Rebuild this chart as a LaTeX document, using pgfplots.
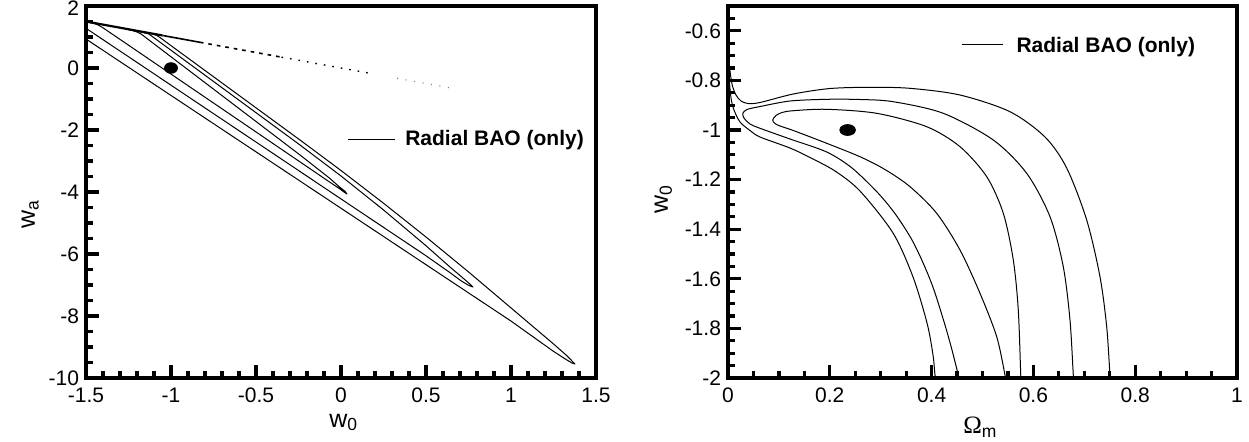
\documentclass[border=0pt]{standalone}
\usepackage{fontspec}
\setmainfont{Liberation Sans}
\newfontfamily\serifgreek{Liberation Serif}
\usepackage{pgfplots}
\pgfplotsset{compat=1.18}
\pgfplotsset{
  panel/.style={
    scale only axis, width=255pt, height=186pt,
    clip mode=individual,
    axis line style={line width=2pt},
    tick align=inside,
    xtick pos=left, ytick pos=left,
    major tick length=6.5pt, minor tick length=3.5pt,
    tick style={line width=1.6pt, black},
    tick label style={font=\fontsize{10.5}{12}\selectfont},
    xticklabel style={yshift=-1.5pt},
    /pgf/number format/assume math mode=true,
  },
  ctr/.style={black, line width=0.5pt, line join=round, mark=none},
}
\newcommand\lblfont{\fontsize{12.5}{14}\selectfont}
\newcommand\legfont{\fontsize{10.5}{12}\selectfont\bfseries}
\begin{document}
\begin{tikzpicture}
% ---------------- left panel ----------------
\begin{axis}[panel, at={(0,0)}, anchor=south west,
  xmin=-1.5, xmax=1.5, ymin=-10, ymax=2,
  xtick={-1.5,-1,-0.5,0,0.5,1,1.5},
  ytick={-10,-8,-6,-4,-2,0,2},
  yticklabels={-10,-8,-6,-4,-2,0,\raisebox{-4.5pt}[0pt][0pt]{2}},
  minor xtick={-1.4,-1.3,-1.2,-1.1,-0.9,-0.8,-0.7,-0.6,-0.4,-0.3,-0.2,-0.1,0.1,0.2,0.3,0.4,0.6,0.7,0.8,0.9,1.1,1.2,1.3,1.4},
  minor ytick={-9.5,-9,-8.5,-7.5,-7,-6.5,-5.5,-5,-4.5,-3.5,-3,-2.5,-1.5,-1,-0.5,0.5,1,1.5},
]
% outer contour
\addplot[ctr] coordinates {(-1.5,0.935) (-1.0,-0.885) (-0.5,-2.704) (0,-4.524) (0.5,-6.344) (1.0,-8.163) (1.247,-9.129) (1.324,-9.403) (1.359,-9.516) (1.376,-9.548) (1.365,-9.484) (1.324,-9.258) (1.247,-8.887) (1.0,-7.739) (0.75,-6.577) (0.5,-5.451) (0.25,-4.361) (0,-3.306) (-0.241,-2.323) (-0.5,-1.284) (-0.75,-0.281) (-1.0,0.722) (-1.065,0.985) (-1.085,1.055) (-1.11,1.095) (-1.15,1.14)};
% middle contour
\addplot[ctr] coordinates {(-1.5,1.281) (-1.25,0.364) (-1.0,-0.554) (-0.5,-2.388) (0,-4.223) (0.5,-6.057) (0.641,-6.60) (0.712,-6.887) (0.753,-7.016) (0.776,-7.065) (0.765,-7.0) (0.724,-6.806) (0.641,-6.419) (0.5,-5.733) (0.25,-4.578) (0,-3.483) (-0.241,-2.484) (-0.5,-1.441) (-0.75,-0.434) (-1.0,0.573) (-1.118,1.048) (-1.13,1.095) (-1.145,1.12) (-1.19,1.175)};
% inner contour
\addplot[ctr] coordinates {(-1.48,1.465) (-1.45,1.43) (-1.43,1.39) (-1.41,1.33) (-1.394,1.274) (-1.25,0.737) (-1.0,-0.196) (-0.75,-1.129) (-0.5,-2.062) (-0.25,-2.995) (-0.0647,-3.687) (-0.0059,-3.903) (0.0176,-4.0) (0.0353,-4.065) (0.0235,-3.977) (-0.0118,-3.823) (-0.0647,-3.565) (-0.241,-2.806) (-0.5,-1.725) (-0.75,-0.681) (-1.0,0.362) (-1.176,1.097) (-1.195,1.15) (-1.215,1.19) (-1.25,1.235)};
% physical boundary w0+wa=0
\addplot[black, line width=1.1pt] coordinates {(-1.5,1.5) (-1.05,1.05)};
\addplot[black, line width=0.8pt] coordinates {(-1.05,1.05) (-0.83,0.83)};
\addplot[black, line width=0.8pt, dash pattern=on 1.8pt off 2.5pt] coordinates {(-0.83,0.83) (-0.35,0.35)};
\addplot[black, line width=0.7pt, dash pattern=on 0.8pt off 3.5pt] coordinates {(-0.35,0.35) (0.18,-0.18)};
\addplot[gray, line width=0.6pt, dash pattern=on 0.5pt off 3.8pt] coordinates {(0.33,-0.33) (0.64,-0.64)};
% fiducial point
\addplot[only marks, mark=*, mark size=3.25pt, mark options={yscale=0.82, fill=black, draw=black}] coordinates {(-1,0)};
% legend
\draw[black, line width=0.5pt] (axis cs:0.041,-2.3) -- (axis cs:0.318,-2.3);
\node[anchor=base west, inner sep=0pt, font=\legfont] at (axis cs:0.376,-2.484) {Radial BAO (only)};
% labels
\node[anchor=base west, inner sep=0pt, font=\lblfont] at (rel axis cs:0.4765,-0.1317) {w\textsubscript{0}};
\node[anchor=base west, inner sep=0pt, rotate=90, font=\lblfont] at (rel axis cs:-0.10,0.40) {w\textsubscript{a}};
\end{axis}
% ---------------- right panel ----------------
\begin{axis}[panel, at={(321pt,0)}, anchor=south west, width=254.5pt,
  xmin=0, xmax=1, ymin=-2, ymax=-0.5,
  xtick={0,0.2,0.4,0.6,0.8,1},
  ytick={-2,-1.8,-1.6,-1.4,-1.2,-1,-0.8,-0.6},
  minor xtick={0.05,0.1,0.15,0.25,0.3,0.35,0.45,0.5,0.55,0.65,0.7,0.75,0.85,0.9,0.95},
  minor ytick={-1.95,-1.9,-1.85,-1.75,-1.7,-1.65,-1.55,-1.5,-1.45,-1.35,-1.3,-1.25,-1.15,-1.1,-1.05,-0.95,-0.9,-0.85,-0.75,-0.7,-0.65,-0.55},
]
% outer contour
\addplot[ctr, smooth, tension=0.5] coordinates {(0.4100,-2.0) (0.4067,-1.9879) (0.4028,-1.9073) (0.3910,-1.7782) (0.3635,-1.5927) (0.3242,-1.4153) (0.2593,-1.2460) (0.2102,-1.1653) (0.1611,-1.1109) (0.1218,-1.0726) (0.0629,-1.0282) (0.0432,-1.0020) (0.0236,-0.9677) (0.0118,-0.9194) (0.0059,-0.8710) (0.0026,-0.7984) (0.0015,-0.74)};
\addplot[ctr, smooth, tension=0.5] coordinates {(0.0025,-0.735) (0.0049,-0.778) (0.0088,-0.8226) (0.0157,-0.8589) (0.0255,-0.8831) (0.0393,-0.8931) (0.0629,-0.8891) (0.1283,-0.8548) (0.2004,-0.8327) (0.2790,-0.8278) (0.3576,-0.8319) (0.4558,-0.8589) (0.5540,-0.9262) (0.6228,-1.0282) (0.6654,-1.1532) (0.7047,-1.3629) (0.7308,-1.5915) (0.7440,-1.7931) (0.7505,-1.9879) (0.7525,-2.0)};
% middle contour
\addplot[ctr, smooth, tension=0.5] coordinates {(0.4550,-2.0) (0.4525,-1.9879) (0.4401,-1.8871) (0.4263,-1.7863) (0.4047,-1.6452) (0.3851,-1.5444) (0.3615,-1.4435) (0.3301,-1.3427) (0.2947,-1.2540) (0.2436,-1.1532) (0.1939,-1.0887) (0.1218,-1.0363) (0.0629,-0.9931) (0.0432,-0.9758) (0.0314,-0.9516) (0.0292,-0.9327) (0.0373,-0.9173) (0.0615,-0.9060) (0.1218,-0.8831) (0.1939,-0.8762) (0.2593,-0.8770) (0.3248,-0.8859) (0.4230,-0.9327) (0.5212,-1.0403) (0.5868,-1.1746) (0.6326,-1.3496) (0.6587,-1.5512) (0.6719,-1.7661) (0.6784,-1.9879) (0.6798,-2.0)};
% inner contour
\addplot[ctr, smooth, tension=0.5] coordinates {(0.5450,-2.0) (0.5442,-1.9879) (0.5279,-1.8335) (0.4951,-1.6585) (0.4558,-1.4839) (0.4100,-1.3359) (0.3576,-1.2286) (0.3084,-1.1593) (0.2593,-1.1077) (0.1939,-1.0536) (0.1283,-1.0020) (0.1022,-0.9839) (0.0923,-0.9738) (0.0878,-0.9597) (0.0943,-0.9415) (0.1061,-0.9294) (0.1283,-0.9222) (0.1939,-0.9165) (0.2921,-0.9327) (0.3904,-0.9867) (0.4558,-1.0673) (0.5083,-1.1883) (0.5409,-1.3359) (0.5605,-1.5242) (0.5703,-1.7258) (0.5751,-1.9879) (0.5756,-2.0)};
% fiducial point
\addplot[only marks, mark=*, mark size=3.9pt, mark options={yscale=0.7, fill=black, draw=black}] coordinates {(0.235,-1.0)};
% legend
\draw[black, line width=0.5pt] (axis cs:0.459,-0.657) -- (axis cs:0.541,-0.657);
\node[anchor=base west, inner sep=0pt, font=\legfont] at (axis cs:0.566,-0.6875) {Radial BAO (only)};
% labels
\node[anchor=base west, inner sep=0pt, font=\lblfont] at (rel axis cs:0.4617,-0.150) {{\serifgreek Ω}\textsubscript{m}};
\node[anchor=base west, inner sep=0pt, rotate=90, font=\lblfont] at (rel axis cs:-0.118,0.441) {w\textsubscript{0}};
\end{axis}
\pgfresetboundingbox
\useasboundingbox (-43pt,-31.5pt) rectangle (581.5pt,189pt);
\end{tikzpicture}
\end{document}
